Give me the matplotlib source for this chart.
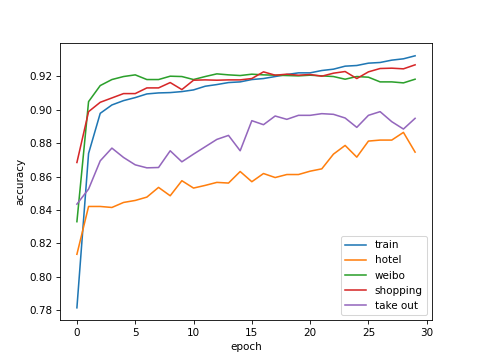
import numpy as np
import matplotlib
matplotlib.use('Agg')
import matplotlib.pyplot as plt

epochs = list(range(30))

train = [0.7815, 0.8738, 0.8978, 0.9028, 0.9054, 0.9072, 0.9094, 0.9100, 0.9102, 0.9108,
         0.9118, 0.9140, 0.9150, 0.9162, 0.9166, 0.9180, 0.9186, 0.9198, 0.9210, 0.9220,
         0.9220, 0.9234, 0.9242, 0.9260, 0.9264, 0.9278, 0.9282, 0.9296, 0.9304, 0.9322]
hotel = [0.8135, 0.8421, 0.8421, 0.8415, 0.8445, 0.8457, 0.8477, 0.8535, 0.8485, 0.8575,
         0.8531, 0.8547, 0.8565, 0.8561, 0.8630, 0.8569, 0.8618, 0.8594, 0.8612, 0.8612,
         0.8632, 0.8646, 0.8734, 0.8786, 0.8716, 0.8812, 0.8818, 0.8818, 0.8864, 0.8746]
weibo = [0.8330, 0.9048, 0.9144, 0.9180, 0.9198, 0.9208, 0.9180, 0.9180, 0.9200, 0.9198,
         0.9180, 0.9198, 0.9214, 0.9208, 0.9204, 0.9212, 0.9208, 0.9206, 0.9204, 0.9202,
         0.9206, 0.9202, 0.9198, 0.9182, 0.9198, 0.9194, 0.9166, 0.9166, 0.9160, 0.9182]
shopping = [0.8684, 0.8988, 0.9044, 0.9070, 0.9096, 0.9096, 0.9130, 0.9130, 0.9162, 0.9120,
            0.9176, 0.9178, 0.9176, 0.9178, 0.9178, 0.9186, 0.9226, 0.9206, 0.9212, 0.9206,
            0.9210, 0.9200, 0.9218, 0.9228, 0.9186, 0.9226, 0.9246, 0.9248, 0.9244, 0.9268]
take_out = [0.8435, 0.8525, 0.8694, 0.8770, 0.8714, 0.8670, 0.8652, 0.8654, 0.8754, 0.8688,
            0.8734, 0.8778, 0.8822, 0.8846, 0.8754, 0.8934, 0.8910, 0.8962, 0.8942, 0.8966,
            0.8966, 0.8976, 0.8972, 0.8950, 0.8894, 0.8966, 0.8988, 0.8928, 0.8884, 0.8948]

fig = plt.figure(figsize=(6.4, 4.8), dpi=75)
plt.plot(epochs, train, label='train')
plt.plot(epochs, hotel, label='hotel')
plt.plot(epochs, weibo, label='weibo')
plt.plot(epochs, shopping, label='shopping')
plt.plot(epochs, take_out, label='take out')
plt.xlabel('epoch')
plt.ylabel('accuracy')
plt.legend(loc='lower right')
plt.savefig('out.png')
